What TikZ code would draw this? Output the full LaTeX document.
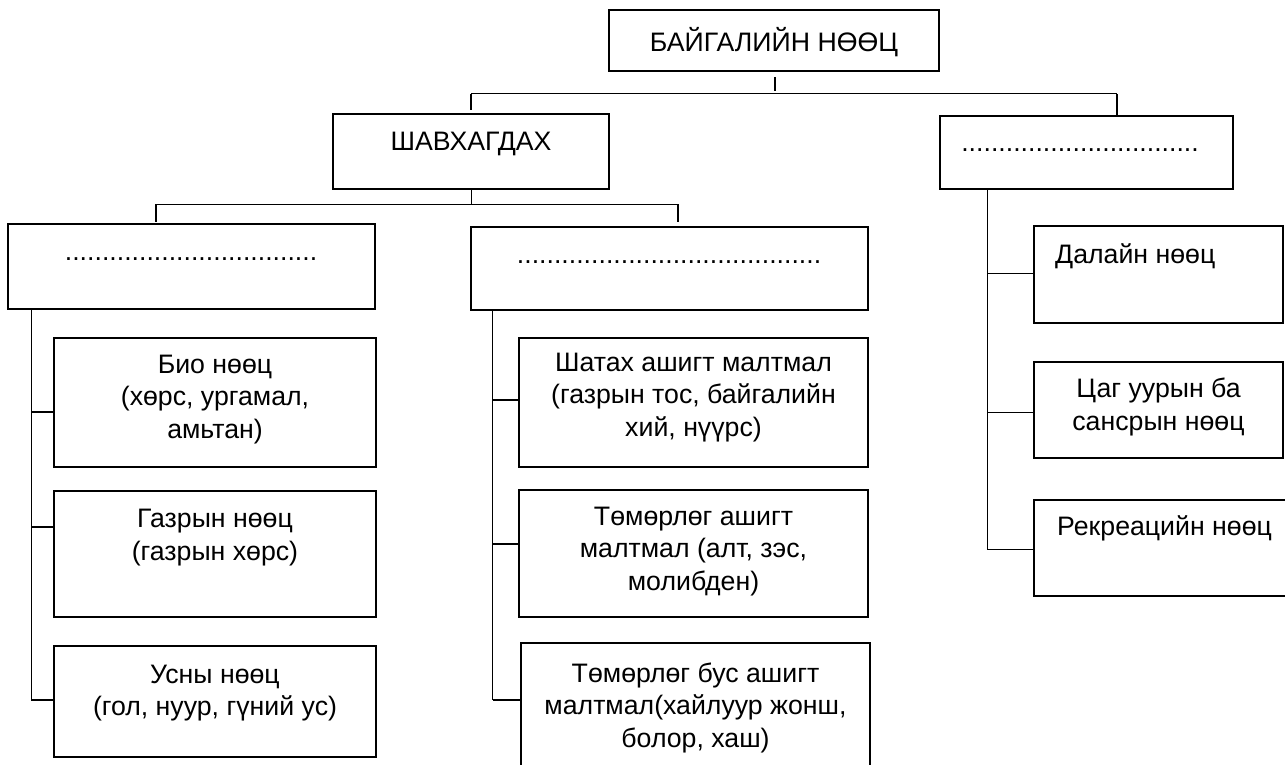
\documentclass[tikz,border=0pt]{standalone}
\usepackage{fontspec}
\setmainfont{Liberation Sans}
\newcommand\mybox[6]{\node[box, anchor=north west, minimum width=#4pt, minimum height=#5pt] (#1) at (#2,#3) {#6};}
\begin{document}
\begin{tikzpicture}[x=1pt,y=-1pt,
  box/.style={draw, line width=1.2pt, inner sep=0pt, outer sep=0pt},
  txt/.style={font=\fontsize{26.7}{32.5}\selectfont, align=center, inner sep=0pt, anchor=base},
  conn/.style={line width=1pt},
  tick/.style={line width=2pt}]
\useasboundingbox (0,0) rectangle (1285,765);
% boxes
\mybox{top}{609}{10}{330}{61}{}
\mybox{sh}{333}{114}{276}{75}{}
\mybox{lh}{8}{224}{367}{85}{}
\mybox{mh}{471}{227}{397}{83}{}
\mybox{rh}{940}{116}{293}{73}{}
\mybox{bio}{54}{338}{322}{129}{}
\mybox{gaz}{54}{491}{322}{126}{}
\mybox{usn}{54}{646}{322}{111}{}
\mybox{sat}{519}{338}{349}{129}{}
\mybox{tom}{519}{490}{349}{127}{}
\mybox{bus}{521}{643}{349}{130}{}
\mybox{dal}{1034}{226}{249}{97}{}
\mybox{tsg}{1034}{362}{249}{96}{}
\mybox{rek}{1034}{500}{256}{96}{}
% texts (anchor = baseline of last line)
\node[txt] (ttop) at (774,52) {БАЙГАЛИЙН НӨӨЦ};
\node[txt] (tsh) at (471,150) {ШАВХАГДАХ};
\node[txt] (tlh) at (191,260) {..................................};
\node[txt] (tmh) at (669,263) {.........................................};
\node[txt] (trh) at (1080,152) {................................};
\node[txt] (tbio) at (215,438) {Био нөөц\\(хөрс, ургамал,\\амьтан)};
\node[txt] (tgaz) at (215,560) {Газрын нөөц\\(газрын хөрс)};
\node[txt] (tusn) at (215,715.5) {Усны нөөц\\(гол, нуур, гүний ус)};
\node[txt] (tsat) at (693.5,436) {Шатах ашигт малтмал\\(газрын тос, байгалийн\\хий, нүүрс)};
\node[txt] (ttom) at (693.5,590) {Төмөрлөг ашигт\\малтмал (алт, зэс,\\молибден)};
\node[txt] (tbus) at (695.5,747) {Төмөрлөг бус ашигт\\малтмал(хайлуур жонш,\\болор, хаш)};
\node[txt, anchor=base west] (tdal) at (1055,263) {Далайн нөөц};
\node[txt] (ttsg) at (1158.5,430) {Цаг уурын ба\\сансрын нөөц};
\node[txt, anchor=base west] (trek) at (1057,535) {Рекреацийн нөөц};
% top level connectors
\coordinate (tk1) at (775,77);
\coordinate (tk2) at (775,91);
\draw[tick] (tk1) -- (tk2);
\coordinate (b1) at (471,94);
\coordinate (b2) at (1117,94);
\coordinate (b1d) at (471,110);
\draw[conn] (b1) -- (b2);
\draw[tick] (b1) -- (b1d);
\draw[tick] (b2) -- (b2 |- rh.north);
% second level
\coordinate (c1) at (156,204);
\coordinate (c2) at (678,204);
\draw[conn] (c1) -- (c2);
\draw[conn] (sh.south) -- (sh.south |- c1);
\draw[tick] (c1) -- ++(0,18);
\draw[tick] (c2) -- ++(0,18);
% left column
\coordinate (lv) at (31,700);
\coordinate (l1) at (31,412);
\coordinate (l2) at (31,527);
\draw[conn] (lh.south -| lv) -- (lv);
\draw[tick] (l1) -- (l1 -| bio.west);
\draw[tick] (l2) -- (l2 -| gaz.west);
\draw[tick] (lv) -- (lv -| usn.west);
% middle column
\coordinate (mv) at (492.7,700);
\coordinate (m1) at (492.7,400);
\coordinate (m2) at (492.7,544);
\draw[conn] (mh.south -| mv) -- (mv);
\draw[tick] (m1) -- (m1 -| sat.west);
\draw[tick] (m2) -- (m2 -| tom.west);
\draw[tick] (mv) -- (mv -| bus.west);
% right column
\coordinate (rv) at (987,549);
\coordinate (r1) at (987,273);
\coordinate (r2) at (987,412);
\draw[conn] (rh.south -| rv) -- (rv);
\draw[conn] (r1) -- (r1 -| dal.west);
\draw[conn] (r2) -- (r2 -| tsg.west);
\draw[conn] (rv) -- (rv -| rek.west);
\end{tikzpicture}
\end{document}
